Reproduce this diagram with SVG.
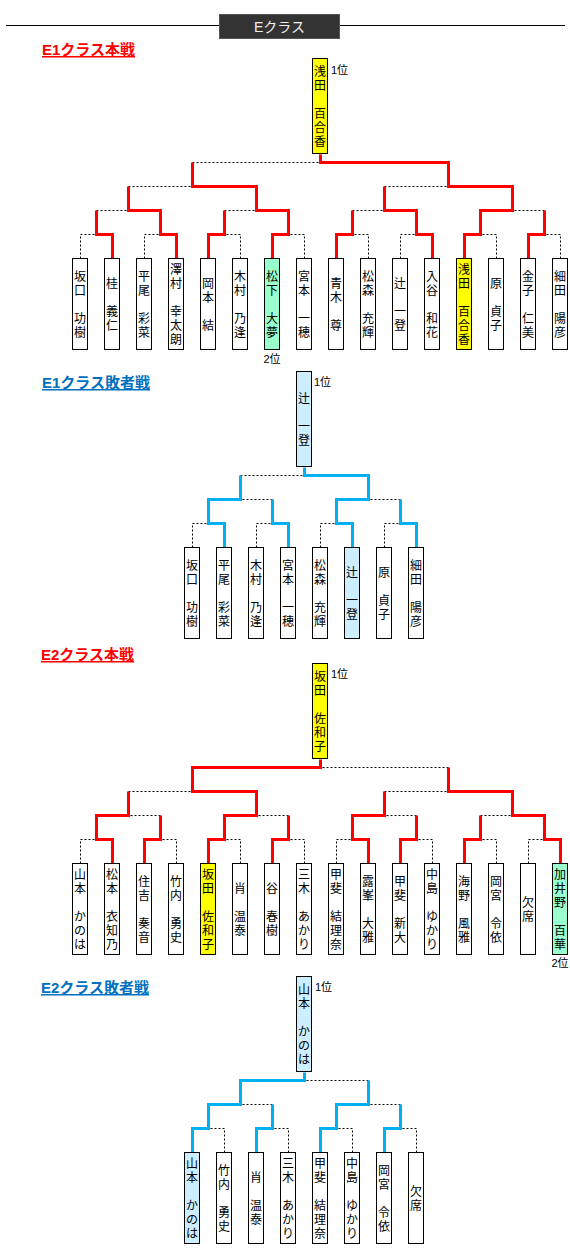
<svg xmlns="http://www.w3.org/2000/svg" width="570" height="1250" viewBox="0 0 570 1250">
<style>
.box{fill:#fff;stroke:#000;stroke-width:1}
.y{fill:#ffff00}
.g{fill:#99ffcc}
.b{fill:#cceeff}
.dash{fill:none;stroke:#000;stroke-width:1;stroke-dasharray:2 2}
.red{fill:none;stroke:#ff0000;stroke-width:3;stroke-linejoin:miter}
.blue{fill:none;stroke:#00b0f0;stroke-width:3;stroke-linejoin:miter}
.nm{font-family:"Liberation Sans","Noto Sans CJK JP",sans-serif;font-size:12px;text-anchor:middle;fill:#000}
.rk{font-family:"Liberation Sans","Noto Sans CJK JP",sans-serif;font-size:11px;fill:#000}
.ttl{font-family:"Liberation Sans","Noto Sans CJK JP",sans-serif;font-size:15px;font-weight:bold;text-decoration:underline}
</style>

<g id="header">
<line x1="6" y1="25.5" x2="565" y2="25.5" stroke="#000" stroke-width="1"/>
<rect x="219.5" y="14.5" width="120" height="24" fill="#333" stroke="#555"/>
<text x="279.5" y="32" font-family="Liberation Sans, Noto Sans CJK JP, sans-serif" font-size="14" fill="#f0f0f0" text-anchor="middle">Eクラス</text>
</g>

<text id="t-e1m" class="ttl" x="42" y="55" fill="#ff0000">E1クラス本戦</text>
<text id="t-e1l" class="ttl" x="42" y="388" fill="#0070c0">E1クラス敗者戦</text>
<text id="t-e2m" class="ttl" x="41" y="660" fill="#ff0000">E2クラス本戦</text>
<text id="t-e2l" class="ttl" x="41" y="993" fill="#0070c0">E2クラス敗者戦</text>

<g id="connectors" transform="translate(0.5,0.5)">
<!-- E1 main dashed -->
<path class="dash" d="M80,258V234H96 M144,258V234H160 M240,258V234H224 M304,258V234H288 M368,258V234H352 M400,258V234H416 M496,258V234H480 M560,258V234H544 M96,210H128 M224,210H256 M352,210H384 M544,210H512 M128,186H192 M384,186H448 M192,162H320"/>
<!-- E1 main red -->
<path class="red" d="M112,258V234H96V210 M176,258V234H160V210H128V186 M208,258V234H224V210 M272,258V234H288V210H256V186H192V162 M336,258V234H352V210 M432,258V234H416V210H384V186 M464,258V234H480V210H512V186H448V162H320V154 M528,258V234H544V210"/>
<!-- E1 loser dashed -->
<path class="dash" d="M192,547V523H208 M256,547V523H272 M320,547V523H336 M384,547V523H400 M272,499H240 M400,499H368 M240,475H304"/>
<!-- E1 loser blue -->
<path class="blue" d="M224,547V523H208V499H240V475 M288,547V523H272V499 M352,547V523H336V499H368V475H304V467 M416,547V523H400V499"/>
<!-- E2 main dashed -->
<path class="dash" d="M80,863V839H96 M176,863V839H160 M240,863V839H224 M304,863V839H288 M336,863V839H352 M432,863V839H416 M496,863V839H480 M528,863V839H544 M160,815H128 M288,815H256 M416,815H384 M480,815H512 M128,791H192 M384,791H448 M448,767H320"/>
<!-- E2 main red -->
<path class="red" d="M112,863V839H96V815H128V791 M144,863V839H160V815 M208,863V839H224V815H256V791H192V767H320V759 M272,863V839H288V815 M368,863V839H352V815H384V791 M400,863V839H416V815 M464,863V839H480V815 M560,863V839H544V815H512V791H448V767"/>
<!-- E2 loser dashed -->
<path class="dash" d="M224,1152V1128H208 M288,1152V1128H272 M352,1152V1128H336 M416,1152V1128H400 M272,1104H240 M400,1104H368 M368,1080H304"/>
<!-- E2 loser blue -->
<path class="blue" d="M192,1152V1128H208V1104H240V1080H304V1072 M256,1152V1128H272V1104 M320,1152V1128H336V1104H368V1080 M384,1152V1128H400V1104"/>
</g>

<!-- ===== E1 main ===== -->
<g id="e1m-top"><rect class="box y" x="312.5" y="58.5" width="15" height="95"/><text class="nm"><tspan x="320" y="75.5">浅</tspan><tspan x="320" y="89.5">田</tspan><tspan x="320" y="117.5">百</tspan><tspan x="320" y="131.5">合</tspan><tspan x="320" y="145.5">香</tspan></text><text class="rk" x="331" y="74">1位</text></g>
<g id="e1m-l0"><rect class="box" x="72.5" y="258.5" width="15" height="91"/><text class="nm"><tspan x="80" y="280.5">坂</tspan><tspan x="80" y="294.5">口</tspan><tspan x="80" y="322.5">功</tspan><tspan x="80" y="336.5">樹</tspan></text></g>
<g id="e1m-l1"><rect class="box" x="104.5" y="258.5" width="15" height="91"/><text class="nm"><tspan x="112" y="287.5">桂</tspan><tspan x="112" y="315.5">義</tspan><tspan x="112" y="329.5">仁</tspan></text></g>
<g id="e1m-l2"><rect class="box" x="136.5" y="258.5" width="15" height="91"/><text class="nm"><tspan x="144" y="280.5">平</tspan><tspan x="144" y="294.5">尾</tspan><tspan x="144" y="322.5">彩</tspan><tspan x="144" y="336.5">菜</tspan></text></g>
<g id="e1m-l3"><rect class="box" x="168.5" y="258.5" width="15" height="91"/><text class="nm"><tspan x="176" y="273.5">澤</tspan><tspan x="176" y="287.5">村</tspan><tspan x="176" y="315.5">幸</tspan><tspan x="176" y="329.5">太</tspan><tspan x="176" y="343.5">朗</tspan></text></g>
<g id="e1m-l4"><rect class="box" x="200.5" y="258.5" width="15" height="91"/><text class="nm"><tspan x="208" y="287.5">岡</tspan><tspan x="208" y="301.5">本</tspan><tspan x="208" y="329.5">結</tspan></text></g>
<g id="e1m-l5"><rect class="box" x="232.5" y="258.5" width="15" height="91"/><text class="nm"><tspan x="240" y="280.5">木</tspan><tspan x="240" y="294.5">村</tspan><tspan x="240" y="322.5">乃</tspan><tspan x="240" y="336.5">逢</tspan></text></g>
<g id="e1m-l6"><rect class="box g" x="264.5" y="258.5" width="15" height="91"/><text class="nm"><tspan x="272" y="280.5">松</tspan><tspan x="272" y="294.5">下</tspan><tspan x="272" y="322.5">大</tspan><tspan x="272" y="336.5">夢</tspan></text><text class="rk" x="272" y="363" text-anchor="middle">2位</text></g>
<g id="e1m-l7"><rect class="box" x="296.5" y="258.5" width="15" height="91"/><text class="nm"><tspan x="304" y="280.5">宮</tspan><tspan x="304" y="294.5">本</tspan><tspan x="304" y="322.5">一</tspan><tspan x="304" y="336.5">穂</tspan></text></g>
<g id="e1m-l8"><rect class="box" x="328.5" y="258.5" width="15" height="91"/><text class="nm"><tspan x="336" y="287.5">青</tspan><tspan x="336" y="301.5">木</tspan><tspan x="336" y="329.5">尊</tspan></text></g>
<g id="e1m-l9"><rect class="box" x="360.5" y="258.5" width="15" height="91"/><text class="nm"><tspan x="368" y="280.5">松</tspan><tspan x="368" y="294.5">森</tspan><tspan x="368" y="322.5">充</tspan><tspan x="368" y="336.5">輝</tspan></text></g>
<g id="e1m-l10"><rect class="box" x="392.5" y="258.5" width="15" height="91"/><text class="nm"><tspan x="400" y="287.5">辻</tspan><tspan x="400" y="315.5">一</tspan><tspan x="400" y="329.5">登</tspan></text></g>
<g id="e1m-l11"><rect class="box" x="424.5" y="258.5" width="15" height="91"/><text class="nm"><tspan x="432" y="280.5">入</tspan><tspan x="432" y="294.5">谷</tspan><tspan x="432" y="322.5">和</tspan><tspan x="432" y="336.5">花</tspan></text></g>
<g id="e1m-l12"><rect class="box y" x="456.5" y="258.5" width="15" height="91"/><text class="nm"><tspan x="464" y="273.5">浅</tspan><tspan x="464" y="287.5">田</tspan><tspan x="464" y="315.5">百</tspan><tspan x="464" y="329.5">合</tspan><tspan x="464" y="343.5">香</tspan></text></g>
<g id="e1m-l13"><rect class="box" x="488.5" y="258.5" width="15" height="91"/><text class="nm"><tspan x="496" y="287.5">原</tspan><tspan x="496" y="315.5">貞</tspan><tspan x="496" y="329.5">子</tspan></text></g>
<g id="e1m-l14"><rect class="box" x="520.5" y="258.5" width="15" height="91"/><text class="nm"><tspan x="528" y="280.5">金</tspan><tspan x="528" y="294.5">子</tspan><tspan x="528" y="322.5">仁</tspan><tspan x="528" y="336.5">美</tspan></text></g>
<g id="e1m-l15"><rect class="box" x="552.5" y="258.5" width="15" height="91"/><text class="nm"><tspan x="560" y="280.5">細</tspan><tspan x="560" y="294.5">田</tspan><tspan x="560" y="322.5">陽</tspan><tspan x="560" y="336.5">彦</tspan></text></g>

<!-- ===== E1 loser ===== -->
<g id="e1l-top"><rect class="box b" x="296.5" y="371.5" width="15" height="95"/><text class="nm"><tspan x="304" y="402.5">辻</tspan><tspan x="304" y="430.5">一</tspan><tspan x="304" y="444.5">登</tspan></text><text class="rk" x="314" y="386">1位</text></g>
<g id="e1l-l0"><rect class="box" x="184.5" y="547.5" width="15" height="91"/><text class="nm"><tspan x="192" y="569.5">坂</tspan><tspan x="192" y="583.5">口</tspan><tspan x="192" y="611.5">功</tspan><tspan x="192" y="625.5">樹</tspan></text></g>
<g id="e1l-l1"><rect class="box" x="216.5" y="547.5" width="15" height="91"/><text class="nm"><tspan x="224" y="569.5">平</tspan><tspan x="224" y="583.5">尾</tspan><tspan x="224" y="611.5">彩</tspan><tspan x="224" y="625.5">菜</tspan></text></g>
<g id="e1l-l2"><rect class="box" x="248.5" y="547.5" width="15" height="91"/><text class="nm"><tspan x="256" y="569.5">木</tspan><tspan x="256" y="583.5">村</tspan><tspan x="256" y="611.5">乃</tspan><tspan x="256" y="625.5">逢</tspan></text></g>
<g id="e1l-l3"><rect class="box" x="280.5" y="547.5" width="15" height="91"/><text class="nm"><tspan x="288" y="569.5">宮</tspan><tspan x="288" y="583.5">本</tspan><tspan x="288" y="611.5">一</tspan><tspan x="288" y="625.5">穂</tspan></text></g>
<g id="e1l-l4"><rect class="box" x="312.5" y="547.5" width="15" height="91"/><text class="nm"><tspan x="320" y="569.5">松</tspan><tspan x="320" y="583.5">森</tspan><tspan x="320" y="611.5">充</tspan><tspan x="320" y="625.5">輝</tspan></text></g>
<g id="e1l-l5"><rect class="box b" x="344.5" y="547.5" width="15" height="91"/><text class="nm"><tspan x="352" y="576.5">辻</tspan><tspan x="352" y="604.5">一</tspan><tspan x="352" y="618.5">登</tspan></text></g>
<g id="e1l-l6"><rect class="box" x="376.5" y="547.5" width="15" height="91"/><text class="nm"><tspan x="384" y="576.5">原</tspan><tspan x="384" y="604.5">貞</tspan><tspan x="384" y="618.5">子</tspan></text></g>
<g id="e1l-l7"><rect class="box" x="408.5" y="547.5" width="15" height="91"/><text class="nm"><tspan x="416" y="569.5">細</tspan><tspan x="416" y="583.5">田</tspan><tspan x="416" y="611.5">陽</tspan><tspan x="416" y="625.5">彦</tspan></text></g>

<!-- ===== E2 main ===== -->
<g id="e2m-top"><rect class="box y" x="312.5" y="663.5" width="15" height="95"/><text class="nm"><tspan x="320" y="680.5">坂</tspan><tspan x="320" y="694.5">田</tspan><tspan x="320" y="722.5">佐</tspan><tspan x="320" y="736.5">和</tspan><tspan x="320" y="750.5">子</tspan></text><text class="rk" x="331" y="678">1位</text></g>
<g id="e2m-l0"><rect class="box" x="72.5" y="863.5" width="15" height="91"/><text class="nm"><tspan x="80" y="878.5">山</tspan><tspan x="80" y="892.5">本</tspan><tspan x="80" y="920.5">か</tspan><tspan x="80" y="934.5">の</tspan><tspan x="80" y="948.5">は</tspan></text></g>
<g id="e2m-l1"><rect class="box" x="104.5" y="863.5" width="15" height="91"/><text class="nm"><tspan x="112" y="878.5">松</tspan><tspan x="112" y="892.5">本</tspan><tspan x="112" y="920.5">衣</tspan><tspan x="112" y="934.5">知</tspan><tspan x="112" y="948.5">乃</tspan></text></g>
<g id="e2m-l2"><rect class="box" x="136.5" y="863.5" width="15" height="91"/><text class="nm"><tspan x="144" y="885.5">住</tspan><tspan x="144" y="899.5">吉</tspan><tspan x="144" y="927.5">奏</tspan><tspan x="144" y="941.5">音</tspan></text></g>
<g id="e2m-l3"><rect class="box" x="168.5" y="863.5" width="15" height="91"/><text class="nm"><tspan x="176" y="885.5">竹</tspan><tspan x="176" y="899.5">内</tspan><tspan x="176" y="927.5">勇</tspan><tspan x="176" y="941.5">史</tspan></text></g>
<g id="e2m-l4"><rect class="box y" x="200.5" y="863.5" width="15" height="91"/><text class="nm"><tspan x="208" y="878.5">坂</tspan><tspan x="208" y="892.5">田</tspan><tspan x="208" y="920.5">佐</tspan><tspan x="208" y="934.5">和</tspan><tspan x="208" y="948.5">子</tspan></text></g>
<g id="e2m-l5"><rect class="box" x="232.5" y="863.5" width="15" height="91"/><text class="nm"><tspan x="240" y="892.5">肖</tspan><tspan x="240" y="920.5">温</tspan><tspan x="240" y="934.5">泰</tspan></text></g>
<g id="e2m-l6"><rect class="box" x="264.5" y="863.5" width="15" height="91"/><text class="nm"><tspan x="272" y="892.5">谷</tspan><tspan x="272" y="920.5">春</tspan><tspan x="272" y="934.5">樹</tspan></text></g>
<g id="e2m-l7"><rect class="box" x="296.5" y="863.5" width="15" height="91"/><text class="nm"><tspan x="304" y="878.5">三</tspan><tspan x="304" y="892.5">木</tspan><tspan x="304" y="920.5">あ</tspan><tspan x="304" y="934.5">か</tspan><tspan x="304" y="948.5">り</tspan></text></g>
<g id="e2m-l8"><rect class="box" x="328.5" y="863.5" width="15" height="91"/><text class="nm"><tspan x="336" y="878.5">甲</tspan><tspan x="336" y="892.5">斐</tspan><tspan x="336" y="920.5">結</tspan><tspan x="336" y="934.5">理</tspan><tspan x="336" y="948.5">奈</tspan></text></g>
<g id="e2m-l9"><rect class="box" x="360.5" y="863.5" width="15" height="91"/><text class="nm"><tspan x="368" y="885.5">露</tspan><tspan x="368" y="899.5">峯</tspan><tspan x="368" y="927.5">大</tspan><tspan x="368" y="941.5">雅</tspan></text></g>
<g id="e2m-l10"><rect class="box" x="392.5" y="863.5" width="15" height="91"/><text class="nm"><tspan x="400" y="885.5">甲</tspan><tspan x="400" y="899.5">斐</tspan><tspan x="400" y="927.5">新</tspan><tspan x="400" y="941.5">大</tspan></text></g>
<g id="e2m-l11"><rect class="box" x="424.5" y="863.5" width="15" height="91"/><text class="nm"><tspan x="432" y="878.5">中</tspan><tspan x="432" y="892.5">島</tspan><tspan x="432" y="920.5">ゆ</tspan><tspan x="432" y="934.5">か</tspan><tspan x="432" y="948.5">り</tspan></text></g>
<g id="e2m-l12"><rect class="box" x="456.5" y="863.5" width="15" height="91"/><text class="nm"><tspan x="464" y="885.5">海</tspan><tspan x="464" y="899.5">野</tspan><tspan x="464" y="927.5">風</tspan><tspan x="464" y="941.5">雅</tspan></text></g>
<g id="e2m-l13"><rect class="box" x="488.5" y="863.5" width="15" height="91"/><text class="nm"><tspan x="496" y="885.5">岡</tspan><tspan x="496" y="899.5">宮</tspan><tspan x="496" y="927.5">令</tspan><tspan x="496" y="941.5">依</tspan></text></g>
<g id="e2m-l14"><rect class="box" x="520.5" y="863.5" width="15" height="91"/><text class="nm"><tspan x="528" y="906.5">欠</tspan><tspan x="528" y="920.5">席</tspan></text></g>
<g id="e2m-l15"><rect class="box g" x="552.5" y="863.5" width="15" height="91"/><text class="nm"><tspan x="560" y="878.5">加</tspan><tspan x="560" y="892.5">井</tspan><tspan x="560" y="906.5">野</tspan><tspan x="560" y="934.5">百</tspan><tspan x="560" y="948.5">華</tspan></text><text class="rk" x="560" y="967" text-anchor="middle">2位</text></g>

<!-- ===== E2 loser ===== -->
<g id="e2l-top"><rect class="box b" x="296.5" y="976.5" width="15" height="95"/><text class="nm"><tspan x="304" y="993.5">山</tspan><tspan x="304" y="1007.5">本</tspan><tspan x="304" y="1035.5">か</tspan><tspan x="304" y="1049.5">の</tspan><tspan x="304" y="1063.5">は</tspan></text><text class="rk" x="315" y="991">1位</text></g>
<g id="e2l-l0"><rect class="box b" x="184.5" y="1152.5" width="15" height="91"/><text class="nm"><tspan x="192" y="1167.5">山</tspan><tspan x="192" y="1181.5">本</tspan><tspan x="192" y="1209.5">か</tspan><tspan x="192" y="1223.5">の</tspan><tspan x="192" y="1237.5">は</tspan></text></g>
<g id="e2l-l1"><rect class="box" x="216.5" y="1152.5" width="15" height="91"/><text class="nm"><tspan x="224" y="1174.5">竹</tspan><tspan x="224" y="1188.5">内</tspan><tspan x="224" y="1216.5">勇</tspan><tspan x="224" y="1230.5">史</tspan></text></g>
<g id="e2l-l2"><rect class="box" x="248.5" y="1152.5" width="15" height="91"/><text class="nm"><tspan x="256" y="1181.5">肖</tspan><tspan x="256" y="1209.5">温</tspan><tspan x="256" y="1223.5">泰</tspan></text></g>
<g id="e2l-l3"><rect class="box" x="280.5" y="1152.5" width="15" height="91"/><text class="nm"><tspan x="288" y="1167.5">三</tspan><tspan x="288" y="1181.5">木</tspan><tspan x="288" y="1209.5">あ</tspan><tspan x="288" y="1223.5">か</tspan><tspan x="288" y="1237.5">り</tspan></text></g>
<g id="e2l-l4"><rect class="box" x="312.5" y="1152.5" width="15" height="91"/><text class="nm"><tspan x="320" y="1167.5">甲</tspan><tspan x="320" y="1181.5">斐</tspan><tspan x="320" y="1209.5">結</tspan><tspan x="320" y="1223.5">理</tspan><tspan x="320" y="1237.5">奈</tspan></text></g>
<g id="e2l-l5"><rect class="box" x="344.5" y="1152.5" width="15" height="91"/><text class="nm"><tspan x="352" y="1167.5">中</tspan><tspan x="352" y="1181.5">島</tspan><tspan x="352" y="1209.5">ゆ</tspan><tspan x="352" y="1223.5">か</tspan><tspan x="352" y="1237.5">り</tspan></text></g>
<g id="e2l-l6"><rect class="box" x="376.5" y="1152.5" width="15" height="91"/><text class="nm"><tspan x="384" y="1174.5">岡</tspan><tspan x="384" y="1188.5">宮</tspan><tspan x="384" y="1216.5">令</tspan><tspan x="384" y="1230.5">依</tspan></text></g>
<g id="e2l-l7"><rect class="box" x="408.5" y="1152.5" width="15" height="91"/><text class="nm"><tspan x="416" y="1195.5">欠</tspan><tspan x="416" y="1209.5">席</tspan></text></g>
</svg>
